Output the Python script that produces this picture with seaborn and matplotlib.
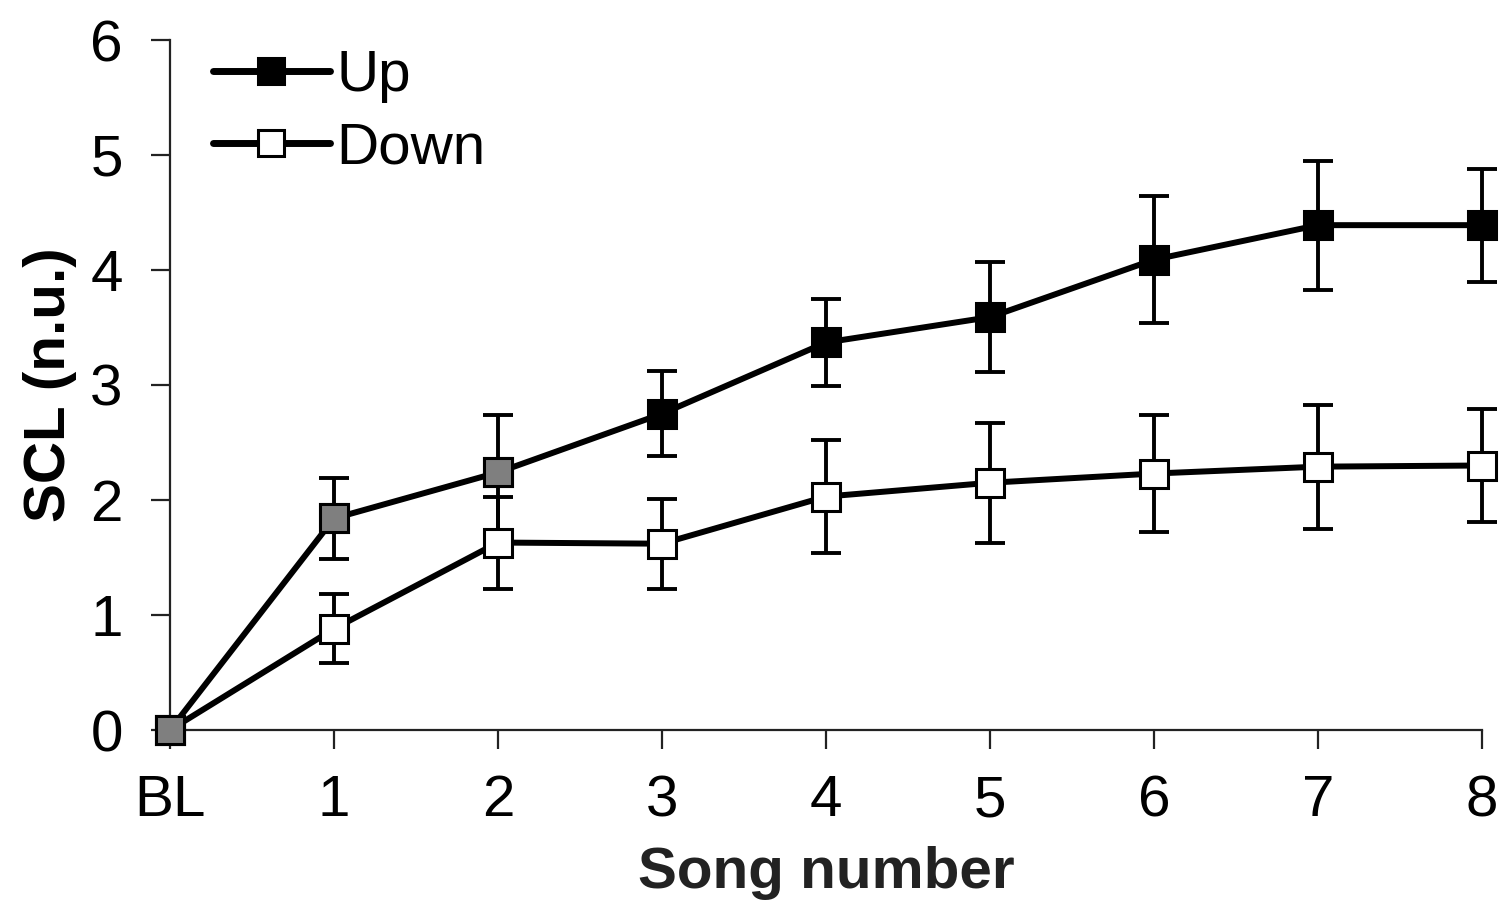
import matplotlib
matplotlib.use("Agg")
import matplotlib.pyplot as plt
import seaborn as sns
import numpy as np
import pandas as pd

songs = ["BL", "1", "2", "3", "4", "5", "6", "7", "8"]
up_mean = [0.0, 1.84, 2.24, 2.75, 3.37, 3.59, 4.09, 4.39, 4.39]
up_sem = [0.0, 0.35, 0.50, 0.37, 0.38, 0.48, 0.55, 0.56, 0.49]
down_mean = [0.0, 0.88, 1.63, 1.62, 2.03, 2.15, 2.23, 2.29, 2.30]
down_sem = [0.0, 0.30, 0.40, 0.39, 0.49, 0.52, 0.51, 0.54, 0.49]

sns.set_theme(style="ticks")
plt.rcParams['font.family'] = ['Liberation Sans', 'DejaVu Sans']
plt.rcParams['text.color'] = 'black'

fig = plt.figure(figsize=(15.03, 9.07), dpi=100)
ax = fig.add_axes([170/1503, 1 - 730/907, (1482-170)/1503, (730-40)/907])

x = np.arange(len(songs))
df = pd.DataFrame({"x": np.concatenate([x, x]),
                   "y": up_mean + down_mean,
                   "Condition": ["Up"]*len(x) + ["Down"]*len(x)})

lw = 4.3
ms = 20
# error bars
for m, e in [(up_mean, up_sem), (down_mean, down_sem)]:
    ax.errorbar(x, m, yerr=e, fmt='none', ecolor='black', elinewidth=2.8,
                capsize=10.5, capthick=2.8, zorder=2, clip_on=False)

sns.lineplot(data=df[df.Condition == "Up"], x="x", y="y", ax=ax, color='black',
             lw=lw, marker='s', markersize=ms, markerfacecolor='black',
             markeredgecolor='black', markeredgewidth=2.2, label="Up", zorder=4,
             clip_on=False)
sns.lineplot(data=df[df.Condition == "Down"], x="x", y="y", ax=ax, color='black',
             lw=lw, marker='s', markersize=ms, markerfacecolor='white',
             markeredgecolor='black', markeredgewidth=2.2, label="Down", zorder=3,
             clip_on=False)

# grey-filled markers as in the original print
grey_idx = [0, 1, 2]
ax.plot(x[grey_idx], np.array(up_mean)[grey_idx], 's', ms=ms, mfc='#7f7f7f',
        mec='black', mew=2.2, zorder=5, clip_on=False)

ax.set_xlim(0, 8)
ax.set_ylim(0, 6)
ax.set_xticks(x)
ax.set_xticklabels(songs)
ax.set_yticks(range(7))
sns.despine(ax=ax)
for s in ["left", "bottom"]:
    ax.spines[s].set_linewidth(1.6)
    ax.spines[s].set_color('#222222')
ax.tick_params(axis='both', which='major', length=14, width=1.6, color='#222222',
               labelsize=42, labelcolor='black')
ax.tick_params(axis='x', pad=18)
ax.tick_params(axis='y', pad=20)

ax.set_xlabel("Song number", fontsize=42, fontweight='bold', color='#222222')
ax.set_ylabel("SCL (n.u.)", fontsize=42, fontweight='bold', color='black')
ax.xaxis.set_label_coords(0.5, (730-846)/690)
ax.yaxis.set_label_coords((77-170)/1312, 0.5)

leg = ax.legend(loc='upper left', bbox_to_anchor=((213-170)/1312, 1 - 9/690),
                frameon=False, fontsize=42, handlelength=2.0, handletextpad=0.12,
                labelspacing=0.31, borderaxespad=0, borderpad=0)
for h in leg.legend_handles:
    h.set_linewidth(5.0)
    h.set_markersize(19)
    h.set_solid_capstyle('round')
for t in leg.get_texts():
    t.set_color('black')

fig.savefig("out.png", dpi=100)
